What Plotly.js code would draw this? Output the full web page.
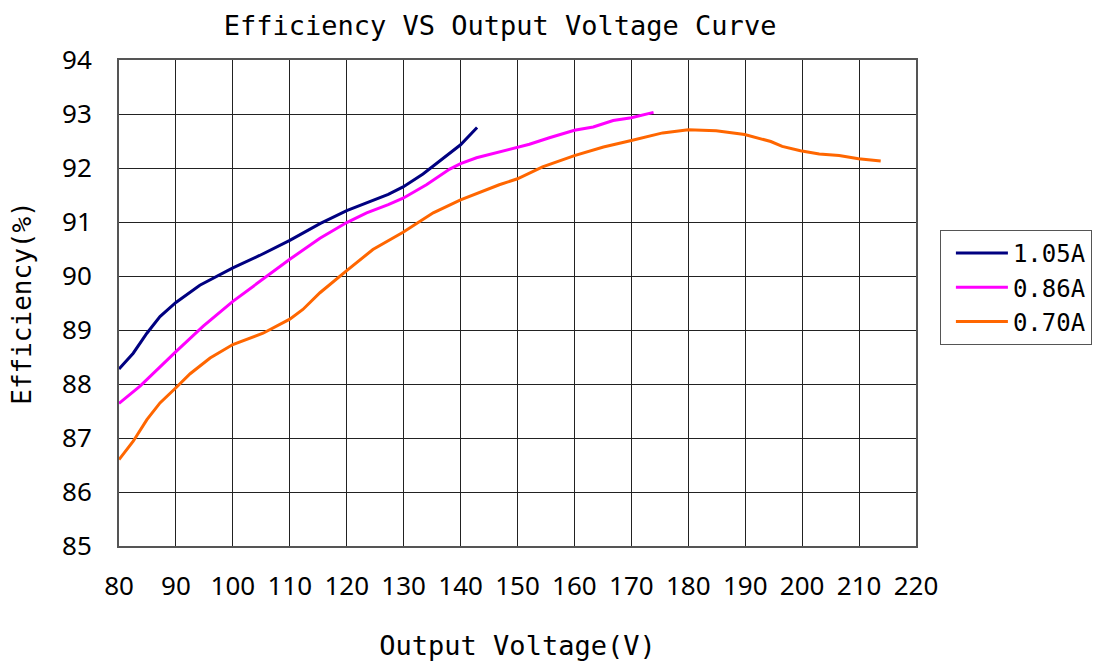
<!DOCTYPE html>
<html>
<head>
<meta charset="utf-8">
<script src="https://cdn.plot.ly/plotly-3.0.1.min.js"></script>
<style>
html,body{margin:0;padding:0;background:#fff;}
#chart{width:1093px;height:666px;}
</style>
</head>
<body>
<div id="chart"></div>
<script>
// Data
const seriesNames = ["1.05A", "0.86A", "0.70A"];
const seriesColors = ["#000080", "#FF00FF", "#FF6600"];

const v105 = [80, 82.5, 84.9, 87.2, 90, 94.2, 100, 104.7, 110, 115.3, 120, 127.3, 129.9, 133.4, 140, 142.9];
const e105 = [88.28, 88.57, 88.94, 89.25, 89.51, 89.83, 90.15, 90.38, 90.66, 90.97, 91.21, 91.51, 91.65, 91.89, 92.43, 92.75];

const v086 = [80, 83.7, 90, 94.8, 100, 105.9, 110, 115.3, 120, 123.5, 127.3, 129.9, 134, 138.1, 140, 142.8, 146.8, 152.1, 155.6, 160, 163.3, 166.8, 170, 173.9];
const e086 = [87.64, 87.96, 88.60, 89.07, 89.53, 89.99, 90.31, 90.70, 90.99, 91.17, 91.32, 91.44, 91.69, 91.98, 92.08, 92.19, 92.30, 92.44, 92.56, 92.70, 92.76, 92.88, 92.93, 93.03];

const v070 = [80, 82.5, 84.9, 87.2, 90, 92.5, 96, 100, 105.3, 110, 112.3, 115.3, 120, 124.6, 129.9, 135.2, 140, 142.8, 146.8, 150, 154.4, 160, 165.1, 170, 175.5, 180, 184.9, 189.9, 194.5, 196.5, 199.7, 203, 206.5, 209.9, 213.8];
const e070 = [86.60, 86.94, 87.34, 87.65, 87.93, 88.19, 88.48, 88.73, 88.94, 89.20, 89.38, 89.69, 90.10, 90.49, 90.81, 91.17, 91.41, 91.53, 91.69, 91.80, 92.02, 92.23, 92.39, 92.51, 92.65, 92.71, 92.69, 92.62, 92.49, 92.40, 92.32, 92.26, 92.23, 92.17, 92.13];

const xTicks = [80, 90, 100, 110, 120, 130, 140, 150, 160, 170, 180, 190, 200, 210, 220];
const yTicks = [85, 86, 87, 88, 89, 90, 91, 92, 93, 94];

const titleText = "Efficiency VS Output Voltage Curve";
const xTitle = "Output Voltage(V)";
const yTitle = "Efficiency(%)";

const xs = [v105, v086, v070];
const ys = [e105, e086, e070];

const traces = xs.map((x, i) => ({
  x: x, y: ys[i], type: "scatter", mode: "lines", name: seriesNames[i],
  line: {color: seriesColors[i], width: 3}
}));

const monoFont = "DejaVu Sans Mono, monospace";
const tickFont = {family: "Noto Sans, sans-serif", size: 26, color: "#000"};

const layout = {
  width: 1093, height: 666,
  paper_bgcolor: "#fff", plot_bgcolor: "#fff",
  margin: {l: 119, r: 177, t: 60, b: 120, autoexpand: false},
  title: {text: titleText, font: {family: monoFont, size: 27, color: "#000"},
          x: 0.4575, xanchor: "center", y: 0.962, yanchor: "middle", xref: "container", yref: "container"},
  xaxis: {
    range: [80, 220], tickvals: xTicks, ticktext: xTicks.map(String),
    showgrid: true, gridcolor: "#222", gridwidth: 1,
    showline: true, linecolor: "#555", linewidth: 2, mirror: true,
    zeroline: false, ticks: "outside", ticklen: 16, tickcolor: "rgba(0,0,0,0)",
    tickfont: tickFont, automargin: false,
    title: {text: xTitle, font: {family: monoFont, size: 27, color: "#000"}, standoff: 34}
  },
  yaxis: {
    range: [85, 94], tickvals: yTicks, ticktext: yTicks.map(String),
    showgrid: true, gridcolor: "#222", gridwidth: 1,
    showline: true, linecolor: "#555", linewidth: 2, mirror: true,
    zeroline: false, ticks: "outside", ticklen: 20, tickcolor: "rgba(0,0,0,0)",
    tickfont: tickFont, automargin: false,
    title: {text: yTitle, font: {family: monoFont, size: 26, color: "#000"}, standoff: 23}
  },
  showlegend: true,
  legend: {
    x: 1.030, xanchor: "left", y: 0.532, yanchor: "middle",
    bordercolor: "#555", borderwidth: 1, bgcolor: "#fff",
    font: {family: monoFont, size: 24, color: "#000"},
    itemwidth: 52, indentation: 10, tracegroupgap: 0
  }
};

Plotly.newPlot("chart", traces, layout, {displayModeBar: false, staticPlot: true});
</script>
</body>
</html>
